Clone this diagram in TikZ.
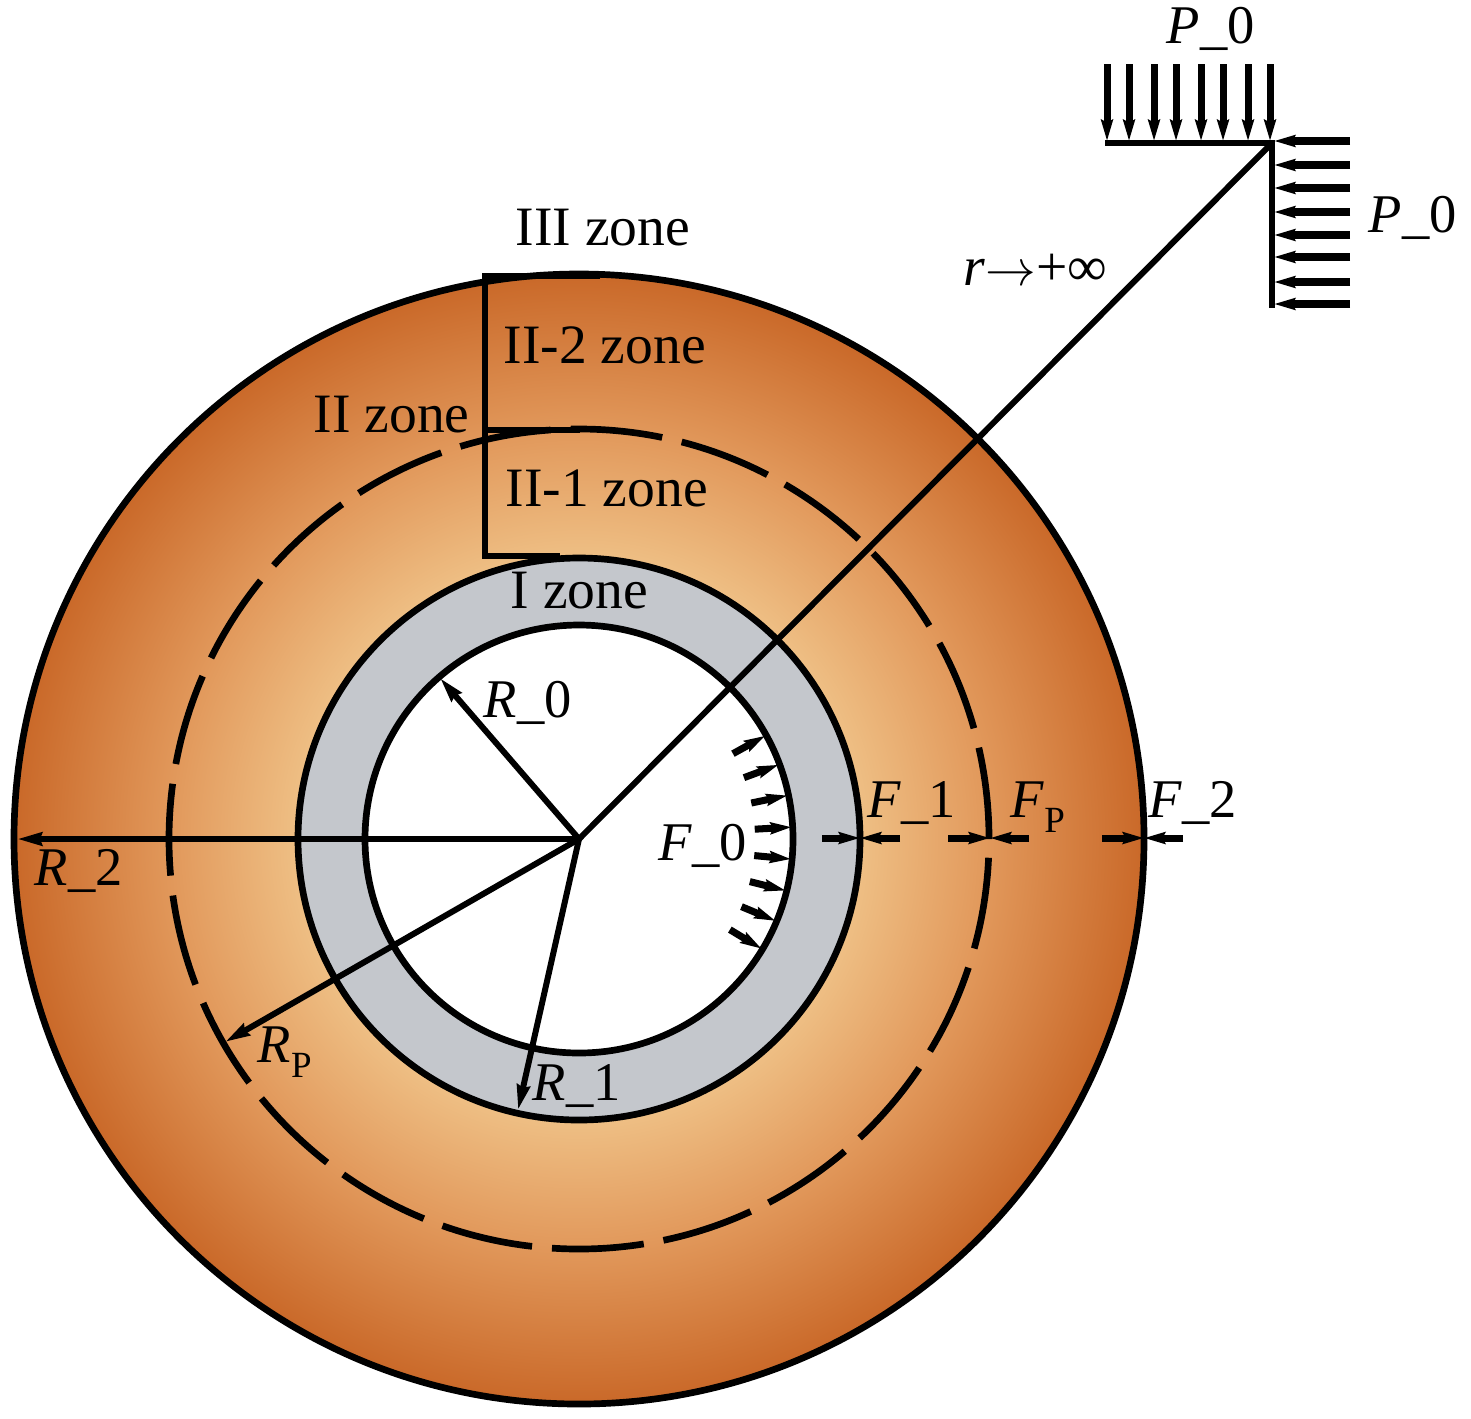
\documentclass[tikz,border=0pt]{standalone}
\usepackage{fontspec}
\setmainfont{Liberation Serif}
\usetikzlibrary{arrows.meta}
\definecolor{linergray}{RGB}{196,199,204}
\pgfdeclareradialshading{rockglow}{\pgfpointorigin}{rgb(0bp)=(.935,.75,.52); rgb(12.4bp)=(.935,.75,.52); rgb(18bp)=(.885,.6,.36); rgb(25bp)=(.79,.41,.16); rgb(50bp)=(.79,.41,.16)}
\newcommand{\subP}{\raisebox{-0.28em}{\fontsize{10.5}{12}\selectfont P}}

\begin{document}
\begin{tikzpicture}[x=0.01cm,y=0.01cm]
\tikzstyle{every node}+=[inner sep=0pt,anchor=base west,font=\fontsize{15.5}{18}\selectfont]
\tikzstyle{wall}=[black,line width=1.9pt]
\tikzstyle{ray}=[black,line width=1.7pt]
\tikzstyle{radius}=[ray,-{Stealth[length=7pt,width=3.6pt,inset=0.5pt]}]
\tikzstyle{load}=[black,line width=2pt,-{Stealth[length=6pt,width=3.3pt,inset=0.8pt]}]
\tikzstyle{zone}=[font=\fontsize{15.8}{18}\selectfont]
\useasboundingbox (0,0) rectangle (1471,-1418);
\coordinate (O) at (579,-839);
\coordinate (corner) at (1272,-143);

\shade [shading=rockglow] (O) circle (565);
\draw [wall] (O) circle (565);
\draw [wall,dash pattern=on 26.18pt off 5.69pt] (O) circle (410);
\draw [wall,fill=linergray] (O) circle (281);
\draw [wall,fill=white] (O) circle (214);

\draw [wall] (600,-276) -- (485,-276) -- (485,-556) -- (560,-556);
\draw [wall] (485,-430) -- (580,-430);

\draw [ray] (O) -- (corner);
\draw [wall] (1105,-143) -- (corner) -- (1272,-308);
\foreach \x in {1107,1129,1154,1176,1201,1223,1248,1270}
  \draw [load] (\x,-64) -- (\x,-141);
\foreach \y in {141,165,188,212,235,257,282,304}
  \draw [load] (1350,-\y) -- (1274,-\y);

\draw [radius] (O) -- (440,-678);
\draw [radius] (O) -- (17,-839);
\draw [radius] (O) -- (225,-1042);
\draw [radius] (O) -- (518,-1110);

\foreach \a in {29,20.4,11.8,3.2,-5.4,-14,-22.6,-31}
  \draw [load] (O) ++(\a:176) -- ++(\a:37);

\foreach \xa/\xb/\xc in {822/860/900,948/990/1029,1102/1144/1183} {
  \draw [load] (\xa,-838) -- (\xb,-838);
  \draw [load] (\xc,-838) -- (\xb,-838);
}

\draw (515,-245) node (zoneiii) [zone] {III zone};
\draw (503,-363) node (zoneiib) [zone] {II-2 zone};
\draw (313,-432) node (zoneii) [zone] {II zone};
\draw (505,-506) node (zoneiia) [zone] {II-1 zone};
\draw (510,-608) node (zonei) [zone] {I zone};
\draw (1166,-44) node (ptop) {\textit{P}\_0};
\draw (1368,-232) node (pside) {\textit{P}\_0};
\draw (963,-285) node (rinf) [zone] {\textit{r}$\rightarrow$+∞};
\draw (483,-717) node (rzero) {\textit{R}\_0};
\draw (34,-885) node (rtwo) {\textit{R}\_2};
\draw (257,-1062) node (rp) {\textit{R}\subP};
\draw (532,-1100) node (rone) {\textit{R}\_1};
\draw (658,-860) node (fzero) {\textit{F}\_0};
\draw (867,-817) node (fone) {\textit{F}\_1};
\draw (1010,-817) node (fp) {\textit{F}\subP};
\draw (1148,-817) node (ftwo) {\textit{F}\_2};
\end{tikzpicture}
\end{document}
